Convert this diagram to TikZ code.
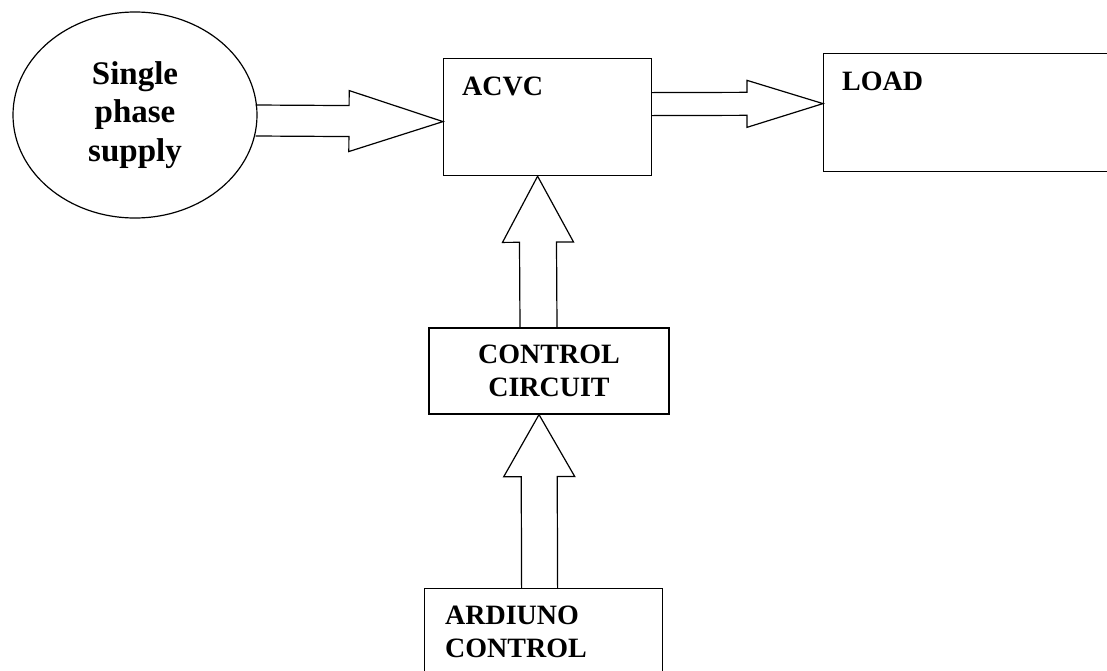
\documentclass[tikz,border=0pt]{standalone}
\usepackage{fontspec}
\setmainfont{Liberation Serif}
\usepackage{tikz}
\usetikzlibrary{shapes.geometric, positioning, calc}

\tikzset{
  box/.style={draw, line width=1.2pt, rectangle, inner sep=0pt},
  tag/.style={font=\bfseries\fontsize{28}{33}\selectfont, inner sep=0pt},
  fatline/.style={line width=1.2pt, line join=miter},
}

% hollow block arrow: tail, tip, shaft half width, head half width, head length
\newcommand{\fatarrow}[5]{%
  \coordinate (hb) at ($(#2)!#5!(#1)$);
  \draw[fatline] ($(#1)!#3!90:(#2)$) -- ($(hb)!#3!90:(#2)$) -- ($(hb)!#4!90:(#2)$)
    -- (#2) -- ($(hb)!#4!-90:(#2)$) -- ($(hb)!#3!-90:(#2)$) -- ($(#1)!#3!-90:(#2)$);
}

\begin{document}
\begin{tikzpicture}[x=1pt, y=-1pt]

\useasboundingbox (0,0) rectangle (1107,670);
\clip (0,0) rectangle (1107,670);

% Supply
\node[draw, ellipse, line width=1.2pt, minimum width=244pt, minimum height=206pt,
      align=center, font=\bfseries\fontsize{33}{38.5}\selectfont] (sup) at (135,115)
  {Single\\phase\\supply};

% ---- Blocks ----
\node[box, minimum width=208pt, minimum height=117pt, anchor=north west] (acvc) at (443,58) {};
\node[tag, below right=19pt and 19pt of acvc.north west] (acvct) {ACVC};

\node[box, minimum width=320pt, minimum height=118pt, anchor=north west] (load) at (823,53) {};
\node[tag, below right=19pt and 19pt of load.north west] (loadt) {LOAD};

\node[box, tag, minimum width=240pt, minimum height=86pt, align=center] (cc) at (549,371)
  {CONTROL\\CIRCUIT};

\node[box, minimum width=238pt, minimum height=110pt, anchor=north west] (ard) at (424,588) {};
\node[tag, align=left, below right=18pt and 21pt of ard.north west] (ardt) {ARDIUNO\\CONTROL};

% ---- Block arrows ----
\coordinate (aT) at ([xshift=-2pt, yshift=-5.5pt]sup.east);
\coordinate (aH) at ([yshift=-4.5pt]acvc.west);
\fatarrow{aT}{aH}{15.5pt}{30.5pt}{94pt}

\coordinate (bT) at ([yshift=13pt]acvc.east);
\coordinate (bH) at ([yshift=9pt]load.west);
\fatarrow{bT}{bH}{11.5pt}{23.5pt}{76pt}

\coordinate (cT) at ([xshift=-10.5pt]cc.north);
\coordinate (cH) at ([xshift=-10pt]acvc.south);
\fatarrow{cT}{cH}{18.5pt}{35.5pt}{66pt}

\coordinate (dT) at ([xshift=-4pt]ard.north);
\coordinate (dH) at ([xshift=-10pt]cc.south);
\fatarrow{dT}{dH}{18pt}{35.5pt}{62pt}

\end{tikzpicture}
\end{document}
